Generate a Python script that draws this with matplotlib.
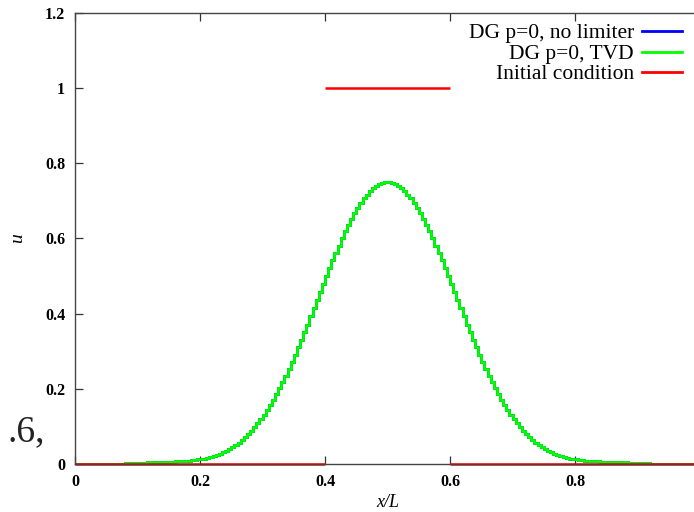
import numpy as np
import matplotlib
matplotlib.use("Agg")
import matplotlib.pyplot as plt
from matplotlib.lines import Line2D

# ---- data (cell averages, 200 cells on [0,1]) ----
dg_tvd = [
    0.000, 0.000, 0.000, 0.000, 0.000, 0.000, 0.000, 0.000, 0.000, 0.000,
    0.000, 0.000, 0.000, 0.000, 0.001, 0.001, 0.002, 0.002, 0.002, 0.003,
    0.003, 0.003, 0.003, 0.004, 0.004, 0.004, 0.004, 0.005, 0.005, 0.005,
    0.006, 0.006, 0.007, 0.007, 0.008, 0.008, 0.009, 0.010, 0.011, 0.012,
    0.013, 0.014, 0.016, 0.018, 0.021, 0.024, 0.027, 0.031, 0.035, 0.040,
    0.045, 0.051, 0.057, 0.064, 0.071, 0.079, 0.088, 0.098, 0.108, 0.119,
    0.131, 0.143, 0.157, 0.171, 0.186, 0.201, 0.218, 0.235, 0.253, 0.271,
    0.290, 0.310, 0.330, 0.351, 0.371, 0.393, 0.414, 0.436, 0.457, 0.479,
    0.500, 0.521, 0.542, 0.562, 0.581, 0.600, 0.619, 0.636, 0.652, 0.668,
    0.682, 0.695, 0.707, 0.717, 0.726, 0.734, 0.740, 0.745, 0.748, 0.750,
    0.750, 0.748, 0.745, 0.740, 0.734, 0.726, 0.717, 0.707, 0.695, 0.682,
    0.668, 0.652, 0.636, 0.619, 0.600, 0.581, 0.562, 0.542, 0.521, 0.500,
    0.479, 0.457, 0.436, 0.414, 0.393, 0.371, 0.351, 0.330, 0.310, 0.290,
    0.271, 0.253, 0.235, 0.218, 0.201, 0.186, 0.171, 0.157, 0.143, 0.131,
    0.119, 0.108, 0.098, 0.088, 0.079, 0.071, 0.064, 0.057, 0.051, 0.045,
    0.040, 0.035, 0.031, 0.027, 0.024, 0.021, 0.018, 0.016, 0.014, 0.013,
    0.012, 0.011, 0.010, 0.009, 0.008, 0.008, 0.007, 0.007, 0.006, 0.006,
    0.005, 0.005, 0.005, 0.004, 0.004, 0.004, 0.004, 0.003, 0.003, 0.003,
    0.003, 0.002, 0.002, 0.002, 0.001, 0.001, 0.000, 0.000, 0.000, 0.000,
    0.000, 0.000, 0.000, 0.000, 0.000, 0.000, 0.000, 0.000, 0.000, 0.000,
]
dg_nolim = list(dg_tvd)          # p=0: identical to TVD result
initial = [0.0] * 80 + [1.0] * 40 + [0.0] * 80

labels = ["DG p=0, no limiter", "DG p=0, TVD", "Initial condition"]
colors = ["#0000ff", "#00ff00", "#ff0000"]
xticks = [0, 0.2, 0.4, 0.6, 0.8, 1.0]
xticklabels = ["0", "0.2", "0.4", "0.6", "0.8", ""]
yticks = [0, 0.2, 0.4, 0.6, 0.8, 1.0, 1.2]
yticklabels = ["0", "0.2", "0.4", "0.6", "0.8", "1", "1.2"]

serif = "Liberation Serif"

fig = plt.figure(figsize=(6.94, 5.12), dpi=100)
W, H = 694, 512
ax = fig.add_axes([75 / W, (H - 464) / H, 625 / W, (464 - 13) / H])

edges = np.linspace(0.0, 1.0, len(dg_tvd) + 1)
ax.stairs(dg_nolim, edges, baseline=None, color=colors[0], lw=2.0, zorder=2)
ax.stairs(dg_tvd, edges, baseline=None, color=colors[1], lw=2.0, zorder=2.1)

# initial condition: piecewise constant per cell, no vertical jumps drawn
xs, ys = [], []
for i, v in enumerate(initial):
    if i > 0 and v != initial[i - 1]:
        xs.append(np.nan)
        ys.append(np.nan)
    xs += [edges[i], edges[i + 1]]
    ys += [v, v]
ax.plot(xs, ys, color=colors[2], lw=1.8, zorder=2.2, clip_on=False,
        solid_capstyle="butt")

ax.set_xlim(0, 1)
ax.set_ylim(0, 1.2)
ax.set_xticks(xticks)
ax.set_xticklabels(xticklabels)
ax.set_yticks(yticks)
ax.set_yticklabels(yticklabels)
ax.tick_params(direction="in", length=6, width=0.9, color="#333333",
               top=True, right=False, labelsize=11.5, pad=7)
for lab in ax.get_xticklabels() + ax.get_yticklabels():
    lab.set_fontfamily(serif)
    lab.set_fontweight("bold")
for sp in ax.spines.values():
    sp.set_color("#444444")
    sp.set_linewidth(1.0)

ax.set_xlabel("x/L", fontsize=13, fontstyle="italic", family=serif, labelpad=3)
ax.set_ylabel("u", fontsize=14, fontstyle="italic", family=serif, labelpad=14)

# key (legend) drawn in figure pixels, gnuplot style: text right, sample left
for i, (lab, col) in enumerate(zip(labels, colors)):
    yc = 1 - (31 + 20.5 * i) / H
    fig.text(634 / W, yc - 2.5 / H, lab, ha="right", va="center",
             family=serif, fontsize=15.5)
    fig.add_artist(Line2D([642 / W, 682 / W], [yc, yc], color=col, lw=2.0,
                          transform=fig.transFigure))

fig.text(8 / W, 1 - 432 / H, ".6,", fontsize=27, family=serif,
         va="center", ha="left", color="#222222")

fig.savefig("out.png", dpi=100)
